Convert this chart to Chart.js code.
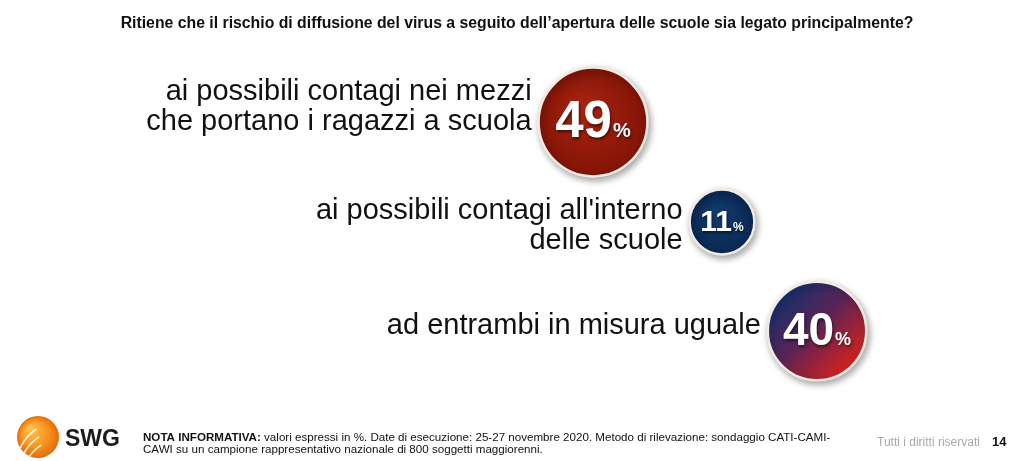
<!DOCTYPE html>
<html>
<head>
<meta charset="utf-8">
<script src="https://cdn.jsdelivr.net/npm/chart.js@4"></script>
<style>
  html, body { margin: 0; padding: 0; background: #fff; }
  canvas { display: block; }
</style>
</head>
<body>
<canvas id="chart" width="1024" height="461"></canvas>
<script>
// survey answers and their shares (%)
const categories = [
    ['ai possibili contagi nei mezzi', 'che portano i ragazzi a scuola'],
    ["ai possibili contagi all'interno", 'delle scuole'],
    ['ad entrambi in misura uguale']
];
const values = [49, 11, 40];

const question = 'Ritiene che il rischio di diffusione del virus a seguito dell\u2019apertura delle scuole sia legato principalmente?';
const noteBold = 'NOTA INFORMATIVA:';
const noteLine1 = ' valori espressi in %. Date di esecuzione: 25-27 novembre 2020. Metodo di rilevazione: sondaggio CATI-CAMI-';
const noteLine2 = 'CAWI su un campione rappresentativo nazionale di 800 soggetti maggiorenni.';
const pageNumber = '14';

// layout of the staircase (pixels on a 1024x461 page)
const W = 1024, H = 461;
const anchorX = [593, 722, 817];
const anchorY = [122, 222, 331];
const labelBaseline = [100, 219, 334];
const lineHeight = 30;
const BORDER = 2.5;
const FONT = '"Liberation Sans", Arial, Helvetica, sans-serif';

function radiusFor(v) {
    return 26 + 0.58 * v;
}

// bubble charts pad the chart area by the largest radius; widen the scales to match
const edge = radiusFor(Math.max(...values)) + BORDER;

function bubbleFill(context) {
    const chart = context.chart;
    const i = context.dataIndex;
    if (!chart.chartArea || i === undefined) return '#8a1508';
    const c = chart.ctx;
    const x = chart.scales.x.getPixelForValue(anchorX[i]);
    const y = chart.scales.y.getPixelForValue(anchorY[i]);
    const r = radiusFor(values[i]);
    let g;
    if (i === 0) {
        g = c.createRadialGradient(x - r * 0.2, y - r * 0.25, r * 0.1, x, y, r);
        g.addColorStop(0, '#a9230f');
        g.addColorStop(1, '#821407');
    } else if (i === 1) {
        g = c.createRadialGradient(x - r * 0.2, y - r * 0.25, r * 0.1, x, y, r);
        g.addColorStop(0, '#123a6c');
        g.addColorStop(1, '#0a2853');
    } else {
        g = c.createLinearGradient(x - r * 0.7, y - r * 0.7, x + r * 0.7, y + r * 0.7);
        g.addColorStop(0, '#16306c');
        g.addColorStop(0.45, '#5a2356');
        g.addColorStop(1, '#d3221c');
    }
    return g;
}

const shadowPlugin = {
    id: 'shadow',
    beforeDatasetsDraw(chart) {
        const c = chart.ctx;
        c.save();
        c.shadowColor = 'rgba(0,0,0,0.35)';
        c.shadowBlur = 7;
        c.shadowOffsetX = 2;
        c.shadowOffsetY = 3;
    },
    afterDatasetsDraw(chart) {
        chart.ctx.restore();
        const c = chart.ctx;
        const meta = chart.getDatasetMeta(0);
        meta.data.forEach((pt, i) => {
            const r = radiusFor(values[i]);
            const num = String(values[i]);
            const big = Math.round(r * 0.93);
            const small = Math.round(r * 0.37);
            c.save();
            c.fillStyle = '#fff';
            c.textBaseline = 'alphabetic';
            c.font = 'bold ' + big + 'px ' + FONT;
            const w1 = c.measureText(num).width;
            c.font = 'bold ' + small + 'px ' + FONT;
            const w2 = c.measureText('%').width;
            const left = pt.x - (w1 + w2 + 1) / 2;
            const base = pt.y + big * 0.3;
            c.shadowColor = 'rgba(0,0,0,0.55)';
            c.shadowBlur = 3;
            c.shadowOffsetX = 1;
            c.shadowOffsetY = 2;
            c.textAlign = 'left';
            c.font = 'bold ' + big + 'px ' + FONT;
            c.fillText(num, left, base);
            c.font = 'bold ' + small + 'px ' + FONT;
            c.fillText('%', left + w1 + 1, base);
            c.restore();
        });
    }
};

const textPlugin = {
    id: 'pageText',
    afterDraw(chart) {
        const c = chart.ctx;
        const meta = chart.getDatasetMeta(0);
        c.save();
        // question
        c.fillStyle = '#111';
        c.textAlign = 'center';
        c.textBaseline = 'alphabetic';
        c.font = 'bold 15.8px "Liberation Sans Narrow", "Arial Narrow", ' + FONT;
        c.fillText(question, 517, 28);

        // answer labels, right aligned against each bubble
        c.font = '29px ' + FONT;
        c.textAlign = 'right';
        c.fillStyle = '#111';
        categories.forEach((lines, i) => {
            const pt = meta.data[i];
            const r = radiusFor(values[i]);
            lines.forEach((line, j) => {
                c.fillText(line, pt.x - r - 7, labelBaseline[i] + j * lineHeight);
            });
        });

        // footer: logo
        const lx = 38, ly = 437, lr = 21;
        const lg = c.createRadialGradient(lx - 8, ly - 8, 2, lx, ly, lr);
        lg.addColorStop(0, '#ffc04a');
        lg.addColorStop(0.6, '#f7931e');
        lg.addColorStop(1, '#e46c0a');
        c.fillStyle = lg;
        c.beginPath();
        c.arc(lx, ly, lr, 0, Math.PI * 2);
        c.fill();
        c.strokeStyle = 'rgba(255,255,255,0.85)';
        c.lineWidth = 1.6;
        [-10, -2, 6].forEach(off => {
            c.beginPath();
            c.ellipse(lx + 14 + off * 0.3, ly + off + 20, 34, 22, -0.6, Math.PI * 1.05, Math.PI * 1.5);
            c.stroke();
        });
        c.fillStyle = '#1b1b1b';
        c.textAlign = 'left';
        c.font = 'bold 23px ' + FONT;
        c.fillText('SWG', 65, 446);

        // footer: note
        c.font = 'bold 11.6px ' + FONT;
        c.fillStyle = '#111';
        c.fillText(noteBold, 143, 441);
        const wb = c.measureText(noteBold).width;
        c.font = '11.6px ' + FONT;
        c.fillText(noteLine1, 143 + wb, 441);
        c.fillText(noteLine2, 143, 453);

        // footer: rights and page
        c.fillStyle = '#a8a8a8';
        c.font = '12px ' + FONT;
        c.fillText('Tutti i diritti riservati', 877, 446);
        c.fillStyle = '#111';
        c.font = 'bold 13px ' + FONT;
        c.fillText(pageNumber, 992, 446);
        c.restore();
    }
};

new Chart(document.getElementById('chart').getContext('2d'), {
    type: 'bubble',
    data: {
        datasets: [{
            label: 'Risposte',
            data: values.map((v, i) => ({ x: anchorX[i], y: anchorY[i], r: radiusFor(v) })),
            backgroundColor: bubbleFill,
            hoverBackgroundColor: bubbleFill,
            borderColor: '#f3ebe2',
            borderWidth: BORDER,
            hoverBorderWidth: BORDER
        }]
    },
    options: {
        responsive: false,
        animation: false,
        events: [],
        layout: { padding: 0 },
        plugins: {
            legend: { display: false },
            tooltip: { enabled: false },
            title: { display: false }
        },
        scales: {
            x: { type: 'linear', min: edge, max: W - edge, display: false },
            y: { type: 'linear', min: edge, max: H - edge, reverse: true, display: false }
        }
    },
    plugins: [shadowPlugin, textPlugin]
});
</script>
</body>
</html>
